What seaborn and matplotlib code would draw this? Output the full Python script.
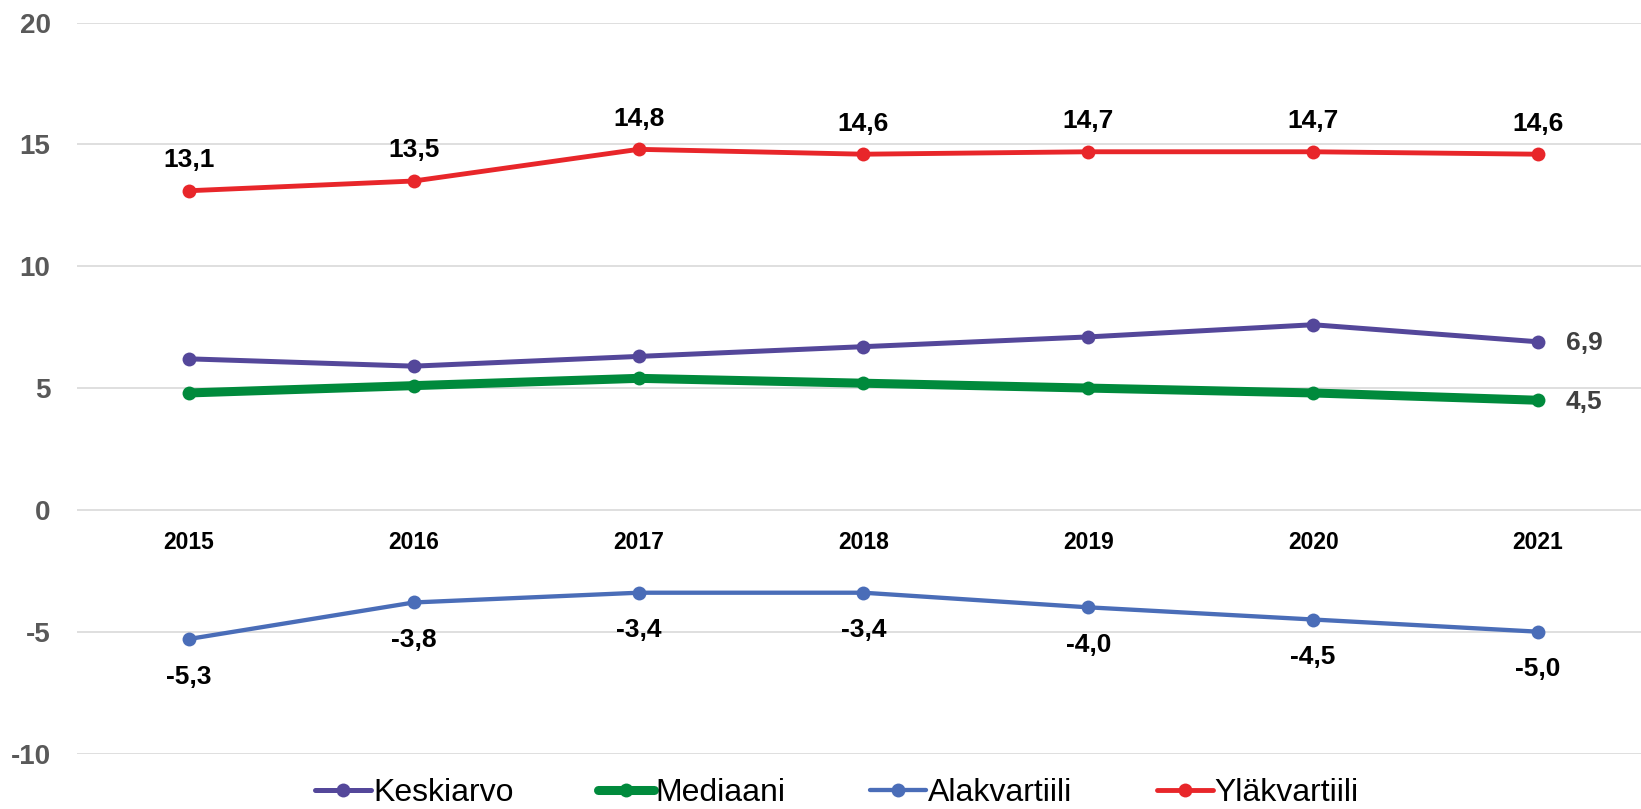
import matplotlib
matplotlib.use("Agg")
import matplotlib.pyplot as plt
import seaborn as sns

# data
years = [2015, 2016, 2017, 2018, 2019, 2020, 2021]
keskiarvo = [6.2, 5.9, 6.3, 6.7, 7.1, 7.6, 6.9]
mediaani = [4.8, 5.1, 5.4, 5.2, 5.0, 4.8, 4.5]
alakvartiili = [-5.3, -3.8, -3.4, -3.4, -4.0, -4.5, -5.0]
ylakvartiili = [13.1, 13.5, 14.8, 14.6, 14.7, 14.7, 14.6]
series_names = ["Keskiarvo", "Mediaani", "Alakvartiili", "Yläkvartiili"]
y_ticks = [-10, -5, 0, 5, 10, 15, 20]

sns.set_theme(style="white")
plt.rcParams["font.family"] = ["Liberation Sans", "DejaVu Sans"]


def fmt(v):
    return f"{v:.1f}".replace(".", ",")


fig = plt.figure(figsize=(16.41, 8.09), dpi=100)
ax = fig.add_axes([0.0469, 0.0686, 0.9531, 0.9034])

styles = [
    (keskiarvo, "#54479a", 3.6, 10),
    (mediaani, "#008a3c", 6.5, 10),
    (alakvartiili, "#4a6db8", 3.1, 10),
    (ylakvartiili, "#e8262a", 3.5, 10),
]
for name, (vals, col, lw, ms) in zip(series_names, styles):
    sns.lineplot(x=years, y=vals, ax=ax, color=col, linewidth=lw,
                 marker="o", markersize=ms, markeredgewidth=0, label=name,
                 zorder=3)

# data labels
for x, v in zip(years, ylakvartiili):
    ax.annotate(fmt(v), (x, v), xytext=(0, 22), textcoords="offset points",
                ha="center", va="center", fontsize=19, fontweight="bold",
                color="black")
for x, v in zip(years, alakvartiili):
    ax.annotate(fmt(v), (x, v), xytext=(0, -27), textcoords="offset points",
                ha="center", va="center", fontsize=19, fontweight="bold",
                color="black")
for vals in (keskiarvo, mediaani):
    ax.annotate(fmt(vals[-1]), (years[-1], vals[-1]), xytext=(20, -1),
                textcoords="offset points", ha="left", va="center",
                fontsize=19, fontweight="bold", color="#404040")

ax.spines["bottom"].set_position(("data", 0))
for s in ax.spines.values():
    s.set_visible(False)
ax.set_xlim(2014.502, 2021.458)
ax.set_ylim(-10, 20)
ax.set_yticks(y_ticks)
ax.set_yticklabels([str(t) for t in y_ticks])
ax.set_xticks(years)
ax.set_xticklabels([str(y) for y in years])
ax.tick_params(axis="y", length=0, pad=19, labelsize=20, labelcolor="#595959")
ax.tick_params(axis="x", length=0, pad=15, labelsize=16.5, labelcolor="black")
for lab in ax.get_xticklabels() + ax.get_yticklabels():
    lab.set_fontweight("bold")
ax.grid(axis="y", color="#d9d9d9", linewidth=1.2, zorder=0)
ax.grid(axis="x", visible=False)
ax.set_axisbelow(True)

handles, labels = ax.get_legend_handles_labels()
ax.get_legend().remove()
fig.legend(handles, labels, loc="center", bbox_to_anchor=(0.51, 0.02),
           ncol=4, frameon=False, fontsize=23, handlelength=1.75,
           handletextpad=0.05, columnspacing=2.65, borderpad=0.1,
           labelcolor="black")

fig.savefig("out.png", dpi=100)
